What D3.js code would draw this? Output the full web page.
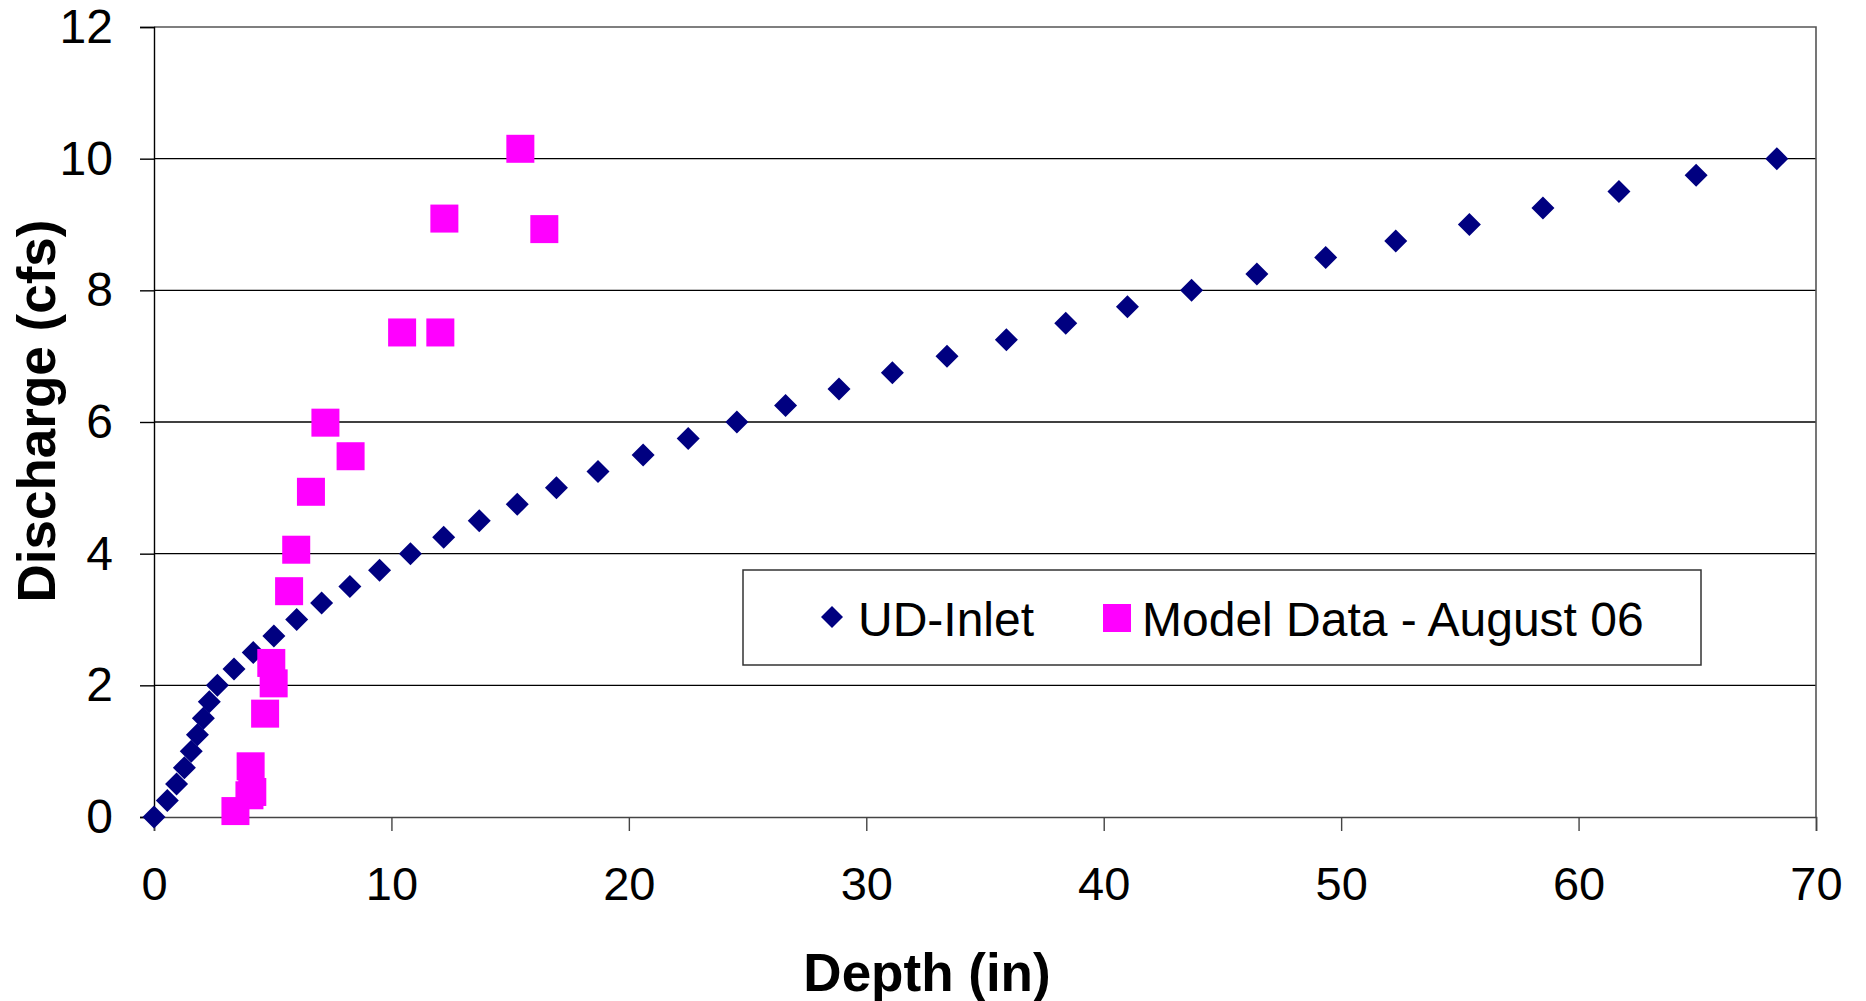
<!DOCTYPE html>
<html>
<head>
<meta charset="utf-8">
<script src="https://cdn.jsdelivr.net/npm/d3@7"></script>
<style>
  html, body { margin: 0; padding: 0; background: #fff; }
  svg { display: block; font-family: "Liberation Sans", Arial, sans-serif; }
</style>
</head>
<body>
<svg id="chart" width="1866" height="1001"></svg>
<script>
// UD-Inlet rating curve: depth (in) vs discharge (cfs)
const inletDepth = [0, 0.56, 0.95, 1.28, 1.57, 1.83, 2.08, 2.33, 2.67, 3.37, 4.18,
  5.05, 6.01, 7.06, 8.25, 9.5, 10.8, 12.2, 13.7, 15.3, 16.95, 18.7, 20.6, 22.5,
  24.55, 26.6, 28.85, 31.1, 33.4, 35.9, 38.4, 41.0, 43.7, 46.45, 49.35, 52.3,
  55.4, 58.5, 61.7, 64.95, 68.35];
const inletFlow = [0, 0.25, 0.5, 0.75, 1, 1.25, 1.5, 1.75, 2, 2.25, 2.5,
  2.75, 3, 3.25, 3.5, 3.75, 4, 4.25, 4.5, 4.75, 5, 5.25, 5.5, 5.75,
  6, 6.25, 6.5, 6.75, 7, 7.25, 7.5, 7.75, 8, 8.25, 8.5, 8.75,
  9, 9.25, 9.5, 9.75, 10];

// Physical model measurements, August 06
const modelDepth = [3.43, 4.02, 4.14, 4.07, 4.68, 5.04, 4.94, 5.69, 5.99, 6.61,
  7.22, 8.28, 10.45, 12.06, 12.23, 15.43, 16.44];
const modelFlow = [0.09, 0.33, 0.38, 0.77, 1.57, 2.03, 2.34, 3.43, 4.06, 4.94,
  5.99, 5.48, 7.36, 7.36, 9.09, 10.15, 8.93];

const xTicks = [0, 10, 20, 30, 40, 50, 60, 70];
const yTicks = [0, 2, 4, 6, 8, 10, 12];
const seriesNames = ["UD-Inlet", "Model Data - August 06"];
const xTitle = "Depth (in)";
const yTitle = "Discharge (cfs)";

const margin = {left: 154, top: 27, right: 50, bottom: 184};
const W = 1866, H = 1001;
const iw = W - margin.left - margin.right;
const ih = H - margin.top - margin.bottom;

const svg = d3.select("#chart");
const g = svg.append("g").attr("transform", `translate(${margin.left},${margin.top})`);

const x = d3.scaleLinear().domain([0, 70]).range([0, iw]);
const y = d3.scaleLinear().domain([0, 12]).range([ih, 0]);

// horizontal gridlines
g.append("g").selectAll("line").data(yTicks.filter(v => v > 0 && v < 12)).join("line")
  .attr("x1", 0).attr("x2", iw)
  .attr("y1", d => y(d)).attr("y2", d => y(d))
  .attr("stroke", "#000").attr("stroke-width", 1.4);

// plot area frame (top & right)
g.append("path")
  .attr("d", `M0,0H${iw}V${ih}`)
  .attr("fill", "none").attr("stroke", "#555").attr("stroke-width", 1.6);

// Y axis
const yAxis = g.append("g")
  .call(d3.axisLeft(y).tickValues(yTicks).tickSize(14).tickPadding(27).tickFormat(d3.format("d")));
yAxis.select(".domain").attr("stroke", "#000").attr("stroke-width", 1.4);
yAxis.selectAll(".tick line").attr("stroke", "#000").attr("stroke-width", 1.4);
yAxis.selectAll(".tick text").attr("font-size", 48).attr("fill", "#000")
  .attr("font-family", "'Liberation Sans', Arial, sans-serif");

// X axis
const xAxis = g.append("g").attr("transform", `translate(0,${ih})`)
  .call(d3.axisBottom(x).tickValues(xTicks).tickSize(14).tickPadding(36).tickFormat(d3.format("d")));
xAxis.select(".domain").attr("stroke", "#444").attr("stroke-width", 1.6);
xAxis.selectAll(".tick line").attr("stroke", "#444").attr("stroke-width", 1.4);
xAxis.selectAll(".tick text").attr("font-size", 47).attr("fill", "#000")
  .attr("font-family", "'Liberation Sans', Arial, sans-serif");

// axis titles
svg.append("text")
  .attr("x", 927).attr("y", 991)
  .attr("text-anchor", "middle")
  .attr("font-size", 53).attr("font-weight", "bold")
  .text(xTitle);

svg.append("text")
  .attr("transform", "translate(55,411) rotate(-90)")
  .attr("text-anchor", "middle")
  .attr("font-size", 53).attr("font-weight", "bold")
  .text(yTitle);

// markers
const diamond = s => `M0,${-s}L${s},0L0,${s}L${-s},0Z`;
const inlet = inletDepth.map((d, i) => ({d, q: inletFlow[i]}));
const model = modelDepth.map((d, i) => ({d, q: modelFlow[i]}));

g.append("g").selectAll("path").data(inlet).join("path")
  .attr("transform", p => `translate(${x(p.d)},${y(p.q)})`)
  .attr("d", diamond(11.5))
  .attr("fill", "#000080");

const sq = 28;
g.append("g").selectAll("rect").data(model).join("rect")
  .attr("x", p => x(p.d) - sq / 2).attr("y", p => y(p.q) - sq / 2)
  .attr("width", sq).attr("height", sq)
  .attr("fill", "#FF00FF");

// legend
const leg = svg.append("g");
leg.append("rect")
  .attr("x", 743).attr("y", 570).attr("width", 958).attr("height", 95)
  .attr("fill", "#fff").attr("stroke", "#333").attr("stroke-width", 1.5);
leg.append("path")
  .attr("transform", "translate(832,617)")
  .attr("d", diamond(11)).attr("fill", "#000080");
leg.append("text").attr("x", 858).attr("y", 636)
  .attr("font-size", 48).text(seriesNames[0]);
leg.append("rect")
  .attr("x", 1103).attr("y", 604).attr("width", 28).attr("height", 28)
  .attr("fill", "#FF00FF");
leg.append("text").attr("x", 1142).attr("y", 636)
  .attr("font-size", 48).text(seriesNames[1]);
</script>
</body>
</html>
